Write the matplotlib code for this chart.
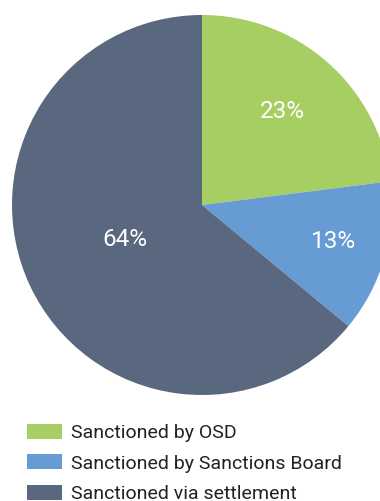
import numpy as np
import matplotlib
matplotlib.use("Agg")
import matplotlib.pyplot as plt
from matplotlib.patches import Patch

categories = ["Sanctioned by OSD", "Sanctioned by Sanctions Board", "Sanctioned via settlement"]
shares = [23, 13, 64]
colors = ["#a6ce62", "#669bd3", "#5a687f"]
label_dist = [0.64, 0.72, 0.45]

plt.rcParams["font.family"] = ["Roboto", "DejaVu Sans"]

W, H = 380, 501
fig = plt.figure(figsize=(W / 100, H / 100), dpi=100)
ax = fig.add_axes([0, 0, 1, 1])
cx, cy, R = 202, 205, 190

wedges, _ = ax.pie(shares, colors=colors, startangle=90, counterclock=False,
                   radius=R, center=(0, 0), frame=True,
                   wedgeprops=dict(linewidth=0))
ax.set_xlim(-cx, W - cx)
ax.set_ylim(-(H - cy), cy)
ax.set_aspect("equal")
ax.axis("off")

for w, v, d in zip(wedges, shares, label_dist):
    mid = np.deg2rad((w.theta1 + w.theta2) / 2)
    ax.text(d * R * np.cos(mid), d * R * np.sin(mid) + 2, f"{v}%",
            ha="center", va="center", color="white", fontsize=17.5)

handles = [Patch(facecolor=c, edgecolor="none") for c in colors]
fig.legend(handles, categories, loc="upper left", bbox_to_anchor=(27 / W, 1 - 424 / H),
           frameon=False, handlelength=1.78, handleheight=0.81,
           handletextpad=0.46, labelspacing=0.62, borderpad=0, borderaxespad=0,
           labelcolor="#222222", prop=dict(size=14))

fig.savefig("out.png", dpi=100, facecolor="white")
